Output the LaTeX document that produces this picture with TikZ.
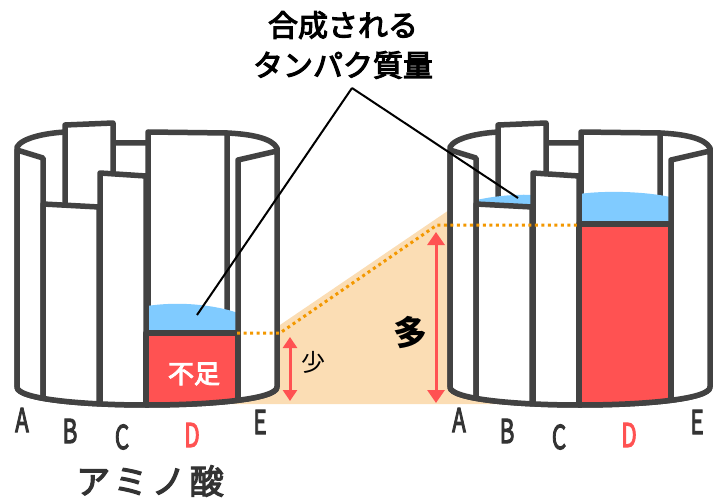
\documentclass[tikz,border=0pt]{standalone}
\usepackage{fontspec}
\setmainfont{Noto Sans CJK JP}
\newfontfamily\medium[FakeBold=3.5]{Noto Sans CJK JP}
\usetikzlibrary{arrows.meta}

\definecolor{rim}{HTML}{424242}
\definecolor{lack}{HTML}{FF5252}
\definecolor{water}{HTML}{80CBFF}
\definecolor{gain}{HTML}{FBDDB4}
\definecolor{dots}{HTML}{F39800}
\definecolor{ink}{HTML}{333333}

\newcommand{\narrow}[1]{\scalebox{0.68}[1]{#1}}

\begin{document}
\begin{tikzpicture}[
  x=1pt, y=-1pt,
  stave/.style={draw=rim, fill=white, line width=5.5pt, line join=round},
  level/.style={dots, line width=3pt, dash pattern=on 3pt off 3.5pt},
  span/.style={{Triangle[length=11pt, width=14pt]}-{Triangle[length=11pt, width=14pt]}, lack, line width=3pt},
  bigspan/.style={span, {Triangle[length=13pt, width=17pt]}-{Triangle[length=13pt, width=17pt]}},
  pointer/.style={black, line width=2pt},
  letter/.style={font=\medium\fontsize{33}{33}\selectfont, text=#1},
  letter/.default=ink,
  % wall and the staves seen through the open top
  pics/backstaves/.style={code={
    \draw[stave] (17,147) .. controls (22,138) and (45,133) .. (66,132) -- (113,143) -- (148,143) -- (227,133)
      .. controls (250,134) and (272,138) .. (277,148) -- (277,387)
      .. controls (277,411) and (17,411) .. (17,387) -- cycle;
    \draw[stave] (65,125) -- (113,123) -- (113,215) -- (65,215) -- cycle;
    \draw[stave] (148,132) -- (227,133) -- (227,#1) -- (148,#1) -- cycle;
  }},
  % front staves A..E, cut along the bottom
  pics/frontstaves/.style={code={
    \begin{scope}
      \clip (0,100) -- (300,100) -- (300,387) -- (277,387)
        .. controls (277,411) and (17,411) .. (17,387) -- (0,387) -- cycle;
      \draw[stave] (17,150) -- (43,158) -- (43,430) -- (17,430) -- cycle;
      \draw[stave] (43,204) -- (99,207) -- (99,430) -- (43,430) -- cycle;
      \draw[stave] (100,173) -- (146,176) -- (146,430) -- (100,430) -- cycle;
      \draw[stave, fill=lack] (146,#1) -- (238,#1) -- (238,430) -- (146,430) -- cycle;
      \draw[stave] (238,160) -- (277,151) -- (277,430) -- (238,430) -- cycle;
    \end{scope}
    \draw[stave, fill=none] (17,387) .. controls (17,411) and (277,411) .. (277,387);
  }}
]
\useasboundingbox (0,0) rectangle (723,500);

% wedge between the two levels
\fill[gain] (230,404) -- (277,327) -- (455,206) -- (455,380) -- (515,404) -- cycle;

% left barrel, D is short
\pic {backstaves=333};
\fill[water] (147,333) -- (147,306) .. controls (180,301) and (215,305) .. (238,313) -- (238,333) -- cycle;
\coordinate (lowwater) at (197,315);
\pic {frontstaves=333};

% right barrel, D is tall
\begin{scope}[xshift=433pt]
  \pic {backstaves=224};
  \fill[water] (44,208) -- (44,200) .. controls (60,196) and (85,194) .. (100,195) -- (100,208) -- cycle;
  \fill[water] (146,224) -- (146,194) .. controls (175,190) and (215,192) .. (237,197) -- (237,224) -- cycle;
  \coordinate (highwater) at (85,198);
  \pic {frontstaves=224};
\end{scope}

% stave letters
\foreach \s/\dx in {l/0, r/437} {
  \node[letter] (\s A) at (22+\dx,420) {\narrow{A}};
  \node[letter] (\s B) at (70+\dx,431) {\narrow{B}};
  \node[letter] (\s C) at (122+\dx,437) {\narrow{C}};
  \node[letter=lack] (\s D) at (192+\dx,435) {\narrow{D}};
  \node[letter] (\s E) at (260+\dx,422) {\narrow{E}};
}
\node[font=\medium\fontsize{34}{34}\selectfont\addfontfeature{LetterSpace=12}, text=ink] (amino) at (150,481) {アミノ酸};

% title and its two pointers
\node[align=center, font=\medium\fontsize{30}{40}\selectfont] (title) at (343,45) {合成される\\タンパク質量};
\coordinate (apex) at (352,88);
\draw[pointer] (apex) -- (lowwater);
\draw[pointer] (apex) -- (highwater);

% dotted level line
\coordinate (lowlvl) at (237,333);
\coordinate (kink) at (280,333);
\coordinate (highlvl) at (437,225);
\coordinate (highend) at (580,225);
\draw[level] (lowlvl) -- (kink) -- (highlvl) -- (highend);

% amounts
\coordinate (fewtop) at (290,337);
\coordinate (fewbot) at (290,401);
\coordinate (manytop) at (436,232);
\coordinate (manybot) at (436,403);
\draw[span] (fewtop) -- (fewbot);
\draw[bigspan] (manytop) -- (manybot);
\node[text=white, font=\medium\fontsize{26}{26}\selectfont] (shortage) at (194,374) {不足};
\node[font=\fontsize{24}{24}\selectfont] (few) at (313,362) {少};
\node[font=\fontsize{34}{34}\selectfont\bfseries] (many) at (410,333) {多};
\end{tikzpicture}
\end{document}
